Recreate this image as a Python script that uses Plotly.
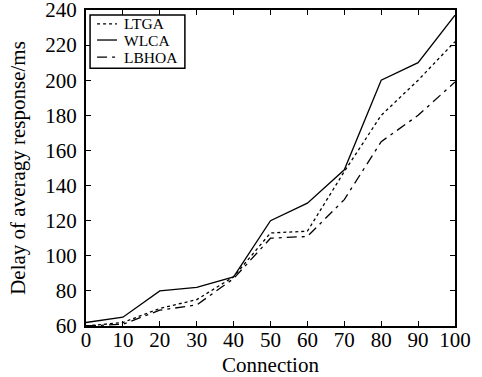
import plotly.graph_objects as go

connections = [0, 10, 20, 30, 40, 50, 60, 70, 80, 90, 100]
ltga = [60, 62, 70, 75, 88, 113, 114, 148, 180, 200, 222]
wlca = [62, 65, 80, 82, 88, 120, 130, 149, 200, 210, 237]
lbhoa = [60, 61, 69, 72, 87, 110, 111, 132, 165, 180, 199]
series_names = ["LTGA", "WLCA", "LBHOA"]

x_ticks = [0, 10, 20, 30, 40, 50, 60, 70, 80, 90, 100]
y_ticks = [60, 80, 100, 120, 140, 160, 180, 200, 220, 240]

font = "Liberation Serif, Times New Roman, serif"
dashes = ["3px,3px", "solid", "10px,5px,3px,5px"]
series_values = [ltga, wlca, lbhoa]

fig = go.Figure()
for name, vals, dash in zip(series_names, series_values, dashes):
    fig.add_trace(go.Scatter(x=connections, y=vals, mode="lines", name=name,
                             showlegend=False,
                             line=dict(color="black", width=1.3, dash=dash)))

axis_common = dict(showgrid=False, zeroline=False, showline=True, linecolor="black",
                   linewidth=2, mirror="ticks", ticks="inside", ticklen=5,
                   tickcolor="black", tickwidth=1.2, automargin=False,
                   ticklabeloverflow="allow",
                   tickfont=dict(family=font, size=21, color="black"))

fig.update_xaxes(range=[0, 100], tickvals=x_ticks, ticktext=[str(v) for v in x_ticks],
                 ticklabelstandoff=-6,
                 title=dict(text="Connection", font=dict(family=font, size=21, color="black")),
                 **axis_common)
fig.update_yaxes(range=[60, 240], tickvals=y_ticks, ticktext=[str(v) for v in y_ticks],
                 ticklabelstandoff=3,
                 title=dict(text="Delay of averagy response/ms", standoff=14,
                            font=dict(family=font, size=21, color="black")),
                 **axis_common)

# Legend box drawn in paper coordinates (matches the boxed legend of the original)
fig.add_shape(type="rect", xref="paper", yref="paper", x0=0.011, x1=0.268,
              y0=0.816, y1=0.984, line=dict(color="black", width=1.5),
              fillcolor="white", layer="above")
legend_rows = [0.956, 0.905, 0.851]
for name, dash, yy in zip(series_names, dashes, legend_rows):
    fig.add_shape(type="line", xref="paper", yref="paper", x0=0.030, x1=0.084,
                  y0=yy, y1=yy, line=dict(color="black", width=1.3, dash=dash),
                  layer="above")
    fig.add_annotation(text=name, xref="paper", yref="paper", x=0.097, y=yy,
                       xanchor="left", yanchor="middle", showarrow=False,
                       font=dict(family=font, size=15.5, color="black"))

fig.update_layout(
    width=482, height=377,
    margin=dict(l=86, r=27, t=10, b=51),
    paper_bgcolor="white", plot_bgcolor="white",
    showlegend=False,
)

fig.write_html("out.html", config={"displayModeBar": False},
               post_script="document.body.style.margin='0';")
